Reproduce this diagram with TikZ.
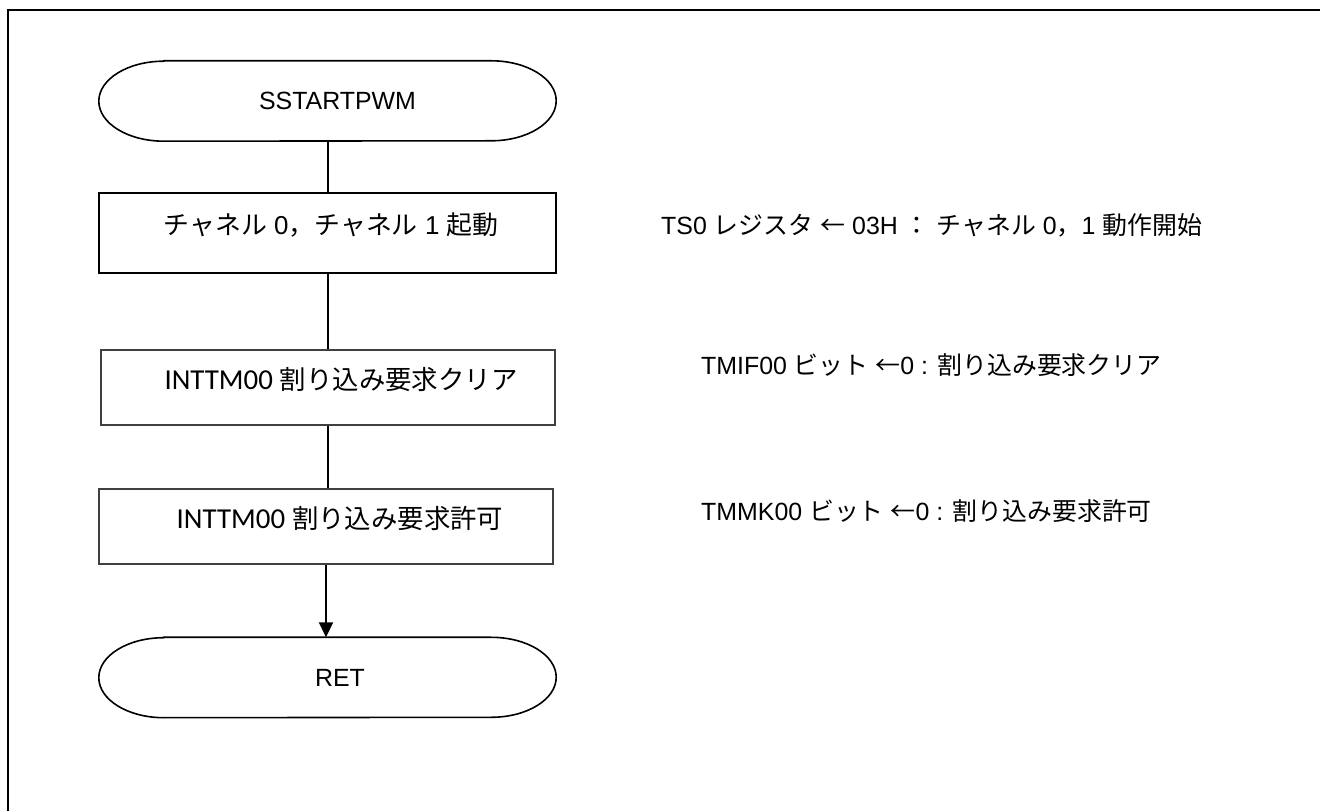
\documentclass[tikz,border=0pt]{standalone}
\usepackage{fontspec}
\setmainfont{Liberation Sans}
\newfontfamily\cjk{Noto Sans CJK JP}
\newfontfamily\latc{Carlito}
\usetikzlibrary{arrows.meta}
\newcommand\jp[1]{{\cjk #1}}
\newcommand\drawterm[1]{%
  \draw[line width=1.6bp] ([xshift=65bp]#1.north west) -- ([xshift=-65bp]#1.north east)
    arc[start angle=90,end angle=-90,x radius=65bp,y radius=40bp]
    -- ([xshift=65bp]#1.south west)
    arc[start angle=270,end angle=90,x radius=65bp,y radius=40bp] -- cycle;}
\begin{document}
\begin{tikzpicture}[x=1bp,y=1bp,
  every node/.style={inner sep=0pt, font=\fontsize{25}{30}\selectfont},
  term/.style={minimum width=457bp, minimum height=80bp, text height=20bp, text depth=2bp},
  procbold/.style={draw, line width=1.6bp, minimum width=457bp, minimum height=80bp,
    text height=20bp, text depth=16bp, font=\fontsize{26}{30}\selectfont},
  procthin/.style={draw=black!75, line width=1.1bp, minimum width=454bp, minimum height=75bp,
    text height=20bp, text depth=16bp},
  note/.style={anchor=west, text height=20bp, text depth=2bp},
  flow/.style={line width=2bp},
]
\useasboundingbox (0,0) rectangle (1320,811);
\draw[line width=2bp] (8,0) -- (8,801) -- (1320,801);

\node[term] (start) at (327.5,710) {\hspace{20bp}SSTARTPWM};
\drawterm{start}
\node[procbold] (p1) at (327.5,578) {\hspace{7bp}\jp{チャネル}~0\jp{，チャネル}~1~\jp{起動}};
\node[procthin] (p2) at (328,423.5) {\hspace{26bp}{\latc\fontsize{29}{32}\selectfont INTTM00}~{\cjk\fontsize{26.5}{30}\selectfont 割り込み要求クリア}};
\node[procthin] (p3) at (326,284.5) {\hspace{28bp}{\latc\fontsize{29}{32}\selectfont INTTM00}~{\cjk\fontsize{26.5}{30}\selectfont 割り込み要求許可}};
\node[term] (ret) at (327.5,133.5) {\hspace{25bp}RET};
\drawterm{ret}

\draw[flow] (start.south) -- (start.south |- p1.north);
\draw[flow] (p1.south) -- (p1.south |- p2.north);
\draw[flow] (p2.south) -- (p2.south |- p3.north);
\draw[flow, -{Triangle[length=15bp,width=14bp]}] (p3.south) -- (p3.south |- ret.north);

\node[note] (n1) at (661,585) {TS0 \jp{レジスタ} \jp{←} 03H \jp{：} \jp{チャネル} 0\jp{，}1 \jp{動作開始}};
\node[note] (n2) at (701,445) {TMIF00 \jp{ビット} \jp{←}0 : \jp{割り込み要求クリア}};
\node[note] (n3) at (701,299) {TMMK00 \jp{ビット} \jp{←}0 : \jp{割り込み要求許可}};
\end{tikzpicture}
\end{document}
